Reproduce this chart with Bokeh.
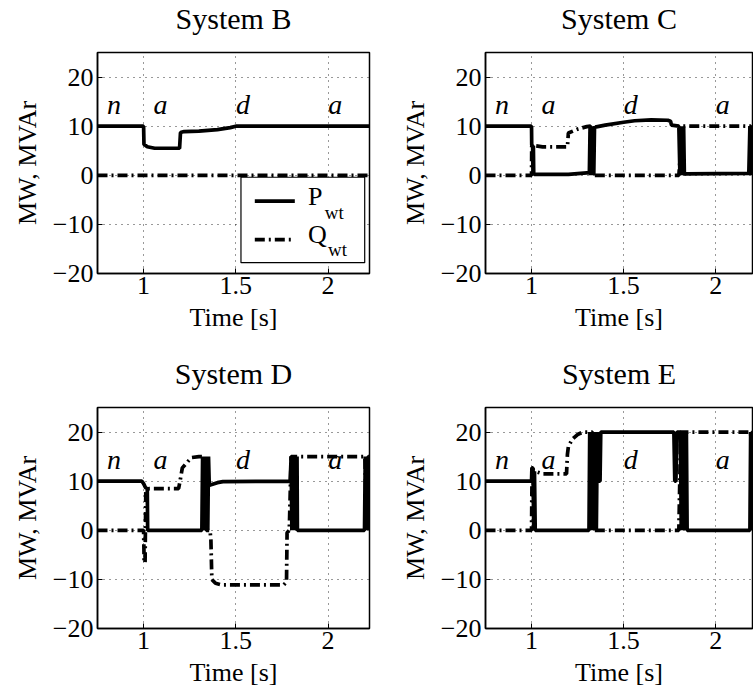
from bokeh.plotting import figure
from bokeh.layouts import column, row
from bokeh.models import FixedTicker, Range1d
from bokeh.core.properties import value
from bokeh.embed import file_html
from bokeh.resources import INLINE

FONT = "Liberation Serif"

# ---------------- data ----------------
titles = ["System B", "System C", "System D", "System E"]
x_ticks = [1, 1.5, 2]
x_tick_labels = {1: "1", 1.5: "1.5", 2: "2"}
y_ticks = [-20, -10, 0, 10, 20]
y_tick_labels = {-20: "\u221220", -10: "\u221210", 0: "0", 10: "10", 20: "20"}

mode_labels = ["n", "a", "d", "a"]
mode_t = [0.84, 1.092, 1.539, 2.039]
mode_v = [12.6, 12.6, 12.6, 12.6]

# System B
tB_P = [0.75, 1.0, 1.002, 1.02, 1.06, 1.195, 1.2, 1.22, 1.3, 1.4, 1.47, 1.5, 2.225]
vB_P = [10, 10, 6.3, 5.8, 5.5, 5.5, 8.7, 8.9, 9.0, 9.3, 9.7, 10, 10]
tB_Q = [0.75, 2.225]
vB_Q = [0, 0]

# System C
tC_P = [0.75, 1.0, 1.001, 1.006, 1.008, 1.010, 1.012, 1.014, 1.2, 1.3, 1.314,
        1.318, 1.322, 1.326, 1.330, 1.334, 1.338, 1.342, 1.345, 1.4, 1.5, 1.56,
        1.65, 1.74, 1.755, 1.76, 1.80, 1.806, 1.810, 1.814, 1.818, 1.822, 1.826,
        1.830, 1.834, 1.84, 2.18, 2.186, 2.19, 2.195, 2.2, 2.205]
vC_P = [10, 10, 6.2, 6.0, 0, 6.0, 0, 0.2, 0.2, 0.5, 0.5,
        10, 0, 10, 0, 10, 0, 10, 9.8, 10.2, 10.8, 11.1,
        11.3, 11.2, 11.0, 10.2, 10.0, 0, 10, 0, 10, 0, 10,
        0, 0.3, 0.3, 0.4, 10, 0, 10, 0, 10]
tC_Q = [0.75, 1.0, 1.001, 1.02, 1.06, 1.195, 1.2, 1.25, 1.3, 1.32, 1.33,
        1.8, 1.82, 2.19, 2.2]
vC_Q = [0, 0, 6.0, 6.0, 5.8, 5.8, 8.6, 9.4, 9.9, 10, 0,
        0, 10, 10, 0]

# System D
tD_P = [0.75, 0.99, 1.0, 1.01, 1.02, 1.022, 1.316, 1.320, 1.324, 1.328, 1.332,
        1.336, 1.340, 1.344, 1.348, 1.352, 1.356, 1.361, 1.4, 1.43, 1.795,
        1.800, 1.804, 1.808, 1.812, 1.816, 1.820, 1.824, 1.828, 1.832, 1.834,
        2.198, 2.202, 2.206, 2.210, 2.214, 2.218, 2.222]
vD_P = [10, 10, 9.5, 8.7, 8.5, 0, 0, 15, 0, 15, 0,
        15, 0, 15, 0, 15, 9.2, 9.2, 9.7, 9.9, 10,
        15, 0, 15, 0, 15, 0, 15, 0, 15, 0,
        0, 15, 0, 15, 0, 15, 15]
tD_Q = [0.75, 1.0, 1.003, 1.008, 1.012, 1.03, 1.19, 1.2, 1.21, 1.24, 1.26, 1.3,
        1.335, 1.34, 1.36, 1.365, 1.37, 1.39, 1.42, 1.76, 1.775, 1.778, 1.79,
        1.80, 2.2, 2.21]
vD_Q = [0, 0, -6.6, -6.6, 8.0, 8.5, 8.5, 10.5, 12.7, 14.0, 14.8, 15,
        15, 0, 0, -2, -10, -10.8, -11.1, -11.1, -10.5, -0.5, 0,
        15, 15, 0]

# System E
tE_P = [0.75, 1.0, 1.002, 1.008, 1.012, 1.016, 1.02, 1.312, 1.316, 1.320, 1.324,
        1.328, 1.332, 1.336, 1.340, 1.344, 1.348, 1.352, 1.357, 1.368, 1.372,
        1.376, 1.773, 1.778, 1.784, 1.790, 1.809, 1.813, 1.817, 1.821, 1.825,
        1.829, 1.833, 1.837, 1.841, 1.845, 1.848, 2.186, 2.190, 2.194, 2.198, 2.205]
vE_P = [10, 10, 12.7, 12.7, 0, 12, 0, 0, 20, 0, 20,
        0, 20, 0, 20, 0, 20, 0, 20, 10, 10,
        20, 20, 10, 10, 20, 20, 0, 20, 0, 20,
        0, 20, 0, 20, 0, 0, 0, 20, 0, 20, 20]
tE_Q = [0.75, 1.0, 1.003, 1.02, 1.06, 1.19, 1.195, 1.2, 1.22, 1.25, 1.28, 1.33,
        1.34, 1.8, 1.81, 2.19, 2.2]
vE_Q = [0, 0, 12.5, 12.0, 11.5, 11.5, 15.5, 17, 18.5, 19.5, 20, 20,
        0, 0, 20, 20, 0]

series = [(tB_P, vB_P, tB_Q, vB_Q), (tC_P, vC_P, tC_Q, vC_Q),
          (tD_P, vD_P, tD_Q, vD_Q), (tE_P, vE_P, tE_Q, vE_Q)]

legend_names = ["P", "Q"]
legend_sub = "wt"

# ---------------- styling / layout ----------------
FRAME_H = 221
LEFT_FRAME_W = 272
RIGHT_FRAME_W = 267
BORDER_L_LEFT = 97
BORDER_L_RIGHT = 96
GAP_R = 20
HEAD_H = 50        # height of the title strip above each panel
TITLE_BASE = 27    # title baseline, px from top of the strip
TOP_B = 2
MID_B = 82
BOT_B = 64

# baseline correction (px) for rendered text glyphs
OFF_BIG = -9
OFF_MID = -8
OFF_SMALL = -6

LW = 3.7
QDASH = "10 4 2 4"


def make_header(idx, border_l, frame_w, border_r):
    h = figure(width=border_l + frame_w + border_r, height=HEAD_H,
               x_range=Range1d(0, frame_w), y_range=Range1d(0, HEAD_H),
               output_backend="svg", toolbar_location=None,
               x_axis_type=None, y_axis_type=None,
               min_border_left=border_l, min_border_right=border_r,
               min_border_top=0, min_border_bottom=0)
    h.outline_line_color = None
    h.grid.visible = False
    h.background_fill_color = "white"
    h.border_fill_color = "white"
    h.text(x=[frame_w / 2], y=[HEAD_H - TITLE_BASE], text=[titles[idx]],
           text_font=value(FONT), text_font_size="30px", text_color="black",
           text_align="center", text_baseline="alphabetic", y_offset=OFF_BIG)
    return h


def make_panel(idx, x_end, border_l, frame_w, border_r, border_b):
    tP, vP, tQ, vQ = series[idx]
    p = figure(width=border_l + frame_w + border_r,
               height=TOP_B + FRAME_H + border_b,
               x_range=Range1d(0.75, x_end), y_range=Range1d(-20, 25),
               output_backend="svg", toolbar_location=None,
               min_border_left=border_l, min_border_right=border_r,
               min_border_top=TOP_B, min_border_bottom=border_b)

    p.outline_line_color = "black"
    p.outline_line_width = 1.5
    p.background_fill_color = "white"
    p.border_fill_color = "white"

    for ax in (p.xaxis[0], p.yaxis[0]):
        ax.axis_line_width = 1.5
        ax.axis_line_color = "black"
        ax.major_tick_in = 5
        ax.major_tick_out = 0
        ax.minor_tick_line_color = None
        ax.major_tick_line_width = 1
        ax.major_label_text_font = FONT
        ax.major_label_text_font_size = "26px"
        ax.major_label_text_color = "black"
        ax.axis_label_text_font = FONT
        ax.axis_label_text_font_size = "26px"
        ax.axis_label_text_font_style = "normal"
        ax.axis_label_text_color = "black"

    p.xaxis.ticker = FixedTicker(ticks=x_ticks)
    p.xaxis.major_label_overrides = x_tick_labels
    p.xaxis.axis_label = "Time [s]"
    p.xaxis.major_label_standoff = 3
    p.xaxis.axis_label_standoff = 6
    p.yaxis.ticker = FixedTicker(ticks=y_ticks)
    p.yaxis.major_label_overrides = y_tick_labels
    p.yaxis.axis_label = "MW, MVAr"
    p.yaxis.major_label_standoff = 4
    p.yaxis.axis_label_standoff = 8

    p.grid.grid_line_color = "black"
    p.grid.grid_line_alpha = 0.8
    p.grid.grid_line_dash = "1 5"
    p.grid.grid_line_width = 1

    p.text(x=mode_t, y=mode_v, text=mode_labels, text_font=value(FONT),
           text_font_style="italic", text_font_size="28px",
           text_align="center", text_baseline="alphabetic", text_color="black",
           y_offset=OFF_BIG)

    p.line(tQ, vQ, line_color="black", line_width=LW, line_dash=QDASH)
    p.line(tP, vP, line_color="black", line_width=LW)
    return p


h1 = make_header(0, BORDER_L_LEFT, LEFT_FRAME_W, GAP_R)
h2 = make_header(1, BORDER_L_RIGHT, RIGHT_FRAME_W, 1)
h3 = make_header(2, BORDER_L_LEFT, LEFT_FRAME_W, GAP_R)
h4 = make_header(3, BORDER_L_RIGHT, RIGHT_FRAME_W, 1)

p1 = make_panel(0, 2.225, BORDER_L_LEFT, LEFT_FRAME_W, GAP_R, MID_B)
p2 = make_panel(1, 2.2, BORDER_L_RIGHT, RIGHT_FRAME_W, 1, MID_B)
p3 = make_panel(2, 2.225, BORDER_L_LEFT, LEFT_FRAME_W, GAP_R, BOT_B)
p4 = make_panel(3, 2.2, BORDER_L_RIGHT, RIGHT_FRAME_W, 1, BOT_B)

# legend (System B), placed in data space of panel B
lg_left, lg_right, lg_top, lg_bottom = 1.528, 2.199, -0.4, -17.8
p1.quad(left=[lg_left], right=[lg_right], top=[lg_top], bottom=[lg_bottom],
        fill_color="white", line_color="black", line_width=1.2)
p1.line([1.603, 1.82], [-5.25, -5.25], line_color="black", line_width=LW)
p1.line([1.603, 1.82], [-13.1, -13.1], line_color="black", line_width=LW,
        line_dash=QDASH)
p1.text(x=[1.892, 1.892], y=[-5.9, -13.6], text=legend_names,
        text_font=value(FONT), text_font_size="26px", text_align="left",
        text_baseline="alphabetic", text_color="black", y_offset=OFF_MID)
p1.text(x=[1.983, 2.0], y=[-8.8, -16.4], text=[legend_sub, legend_sub],
        text_font=value(FONT), text_font_size="19px", text_align="left",
        text_baseline="alphabetic", text_color="black", y_offset=OFF_SMALL)

layout = column(row(h1, h2), row(p1, p2), row(h3, h4), row(p3, p4))

with open("out.html", "w") as f:
    f.write(file_html(layout, INLINE))
